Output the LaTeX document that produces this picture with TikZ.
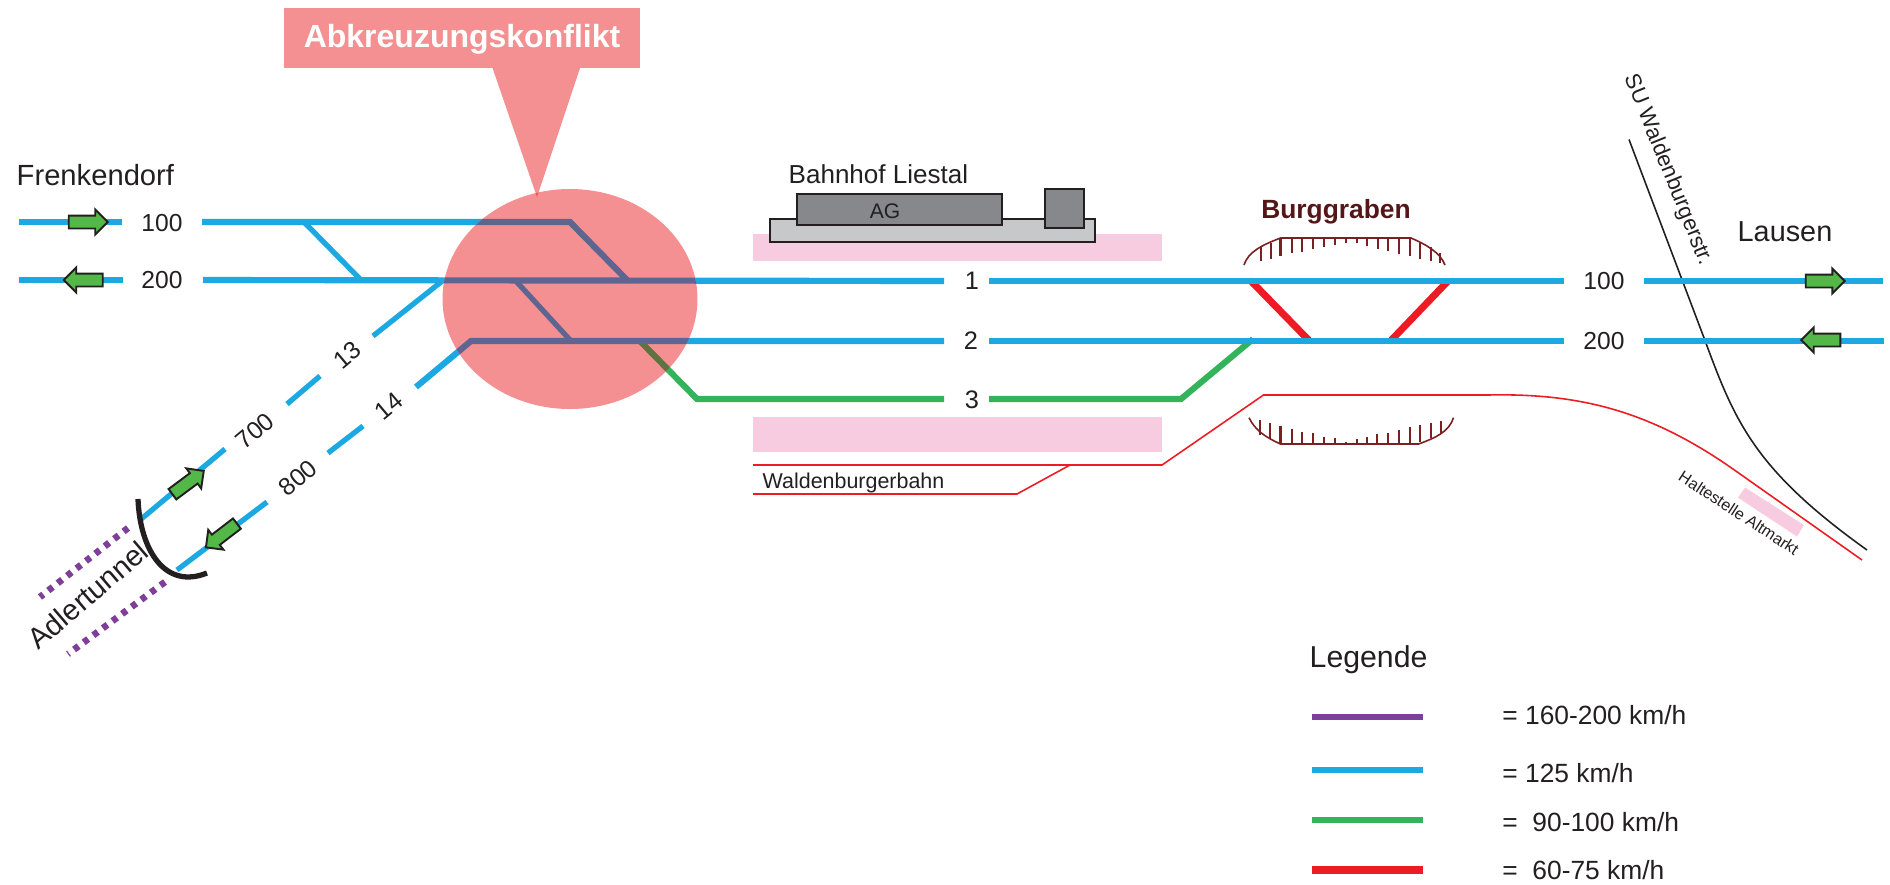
\documentclass[tikz,border=0pt]{standalone}
\usepackage{fontspec}
\setmainfont{Liberation Sans}
\usetikzlibrary{shapes.arrows}
\definecolor{trackblue}{HTML}{1CA9E1}
\definecolor{trackgreen}{HTML}{33B35A}
\definecolor{trackred}{HTML}{ED1C24}
\definecolor{trackviolet}{HTML}{7F3F98}
\definecolor{conflict}{HTML}{F59092}
\definecolor{conflicttip}{HTML}{F0585F}
\definecolor{conflictblue}{HTML}{5E6590}
\definecolor{conflictgreen}{HTML}{5F7340}
\definecolor{platform}{HTML}{F7CBE0}
\definecolor{wall}{HTML}{7A1F22}
\definecolor{ink}{HTML}{231F20}
\definecolor{arrowgreen}{HTML}{54B848}
\definecolor{roofgrey}{HTML}{87888C}
\definecolor{basegrey}{HTML}{C6C8CA}
\tikzset{
  txt/.style={inner sep=0pt,text=ink,font=\fontsize{#1pt}{#1pt}\selectfont},
  txt/.default=7.2,
}
\begin{document}
\begin{tikzpicture}[
    x=0.01cm,y=-0.01cm,
    track/.style={line width=1.75pt},
    branch/.style={line width=1.5pt},
    thinred/.style={trackred,line width=0.45pt},
    tunnel/.style={trackviolet,line width=1.9pt,dash pattern=on 1.6pt off 1.8pt},
    wallline/.style={wall,line width=0.45pt},
    hatch/.style={wall,line width=0.7pt},
    dirarrow/.style={single arrow,draw=ink,fill=arrowgreen,line width=0.55pt,
      inner xsep=0pt,inner ysep=0.055cm,minimum height=0.39cm,
      single arrow head extend=0.06cm,single arrow head indent=0cm},
    building/.style={draw=ink,line width=0.4pt},
    ]
    \useasboundingbox (0,0) rectangle (1890,884);
    % platforms
    \fill[platform] (753,234) rectangle (1162,261);
    \fill[platform] (753,417) rectangle (1162,452);
    \fill[platform] (1745,487.5) -- (1804,525) -- (1797,536.5) -- (1738,497.6) -- cycle;
    % station
    \draw[building,fill=basegrey] (770,219) rectangle (1095,242);
    \draw[building,fill=roofgrey] (797,194) rectangle (1002,225);
    \draw[building,fill=roofgrey] (1045,189) rectangle (1084,228);
    % thin lines
    \draw[thinred] (753,465) -- (1162,465) -- (1263.5,395) -- (1488,395)
      .. controls (1580,393) and (1650,411) .. (1733,469) -- (1862,560);
    \draw[thinred] (753,494) -- (1017,494) -- (1070,465);
    \draw[ink,line width=0.45pt] (1629,139.5) -- (1705,340.5)
      .. controls (1735,422) and (1755,470) .. (1867,550);
    % cuttings
    \draw[wallline] (1244,265) .. controls (1248,252) and (1262,245) .. (1280.5,238) -- (1411,238)
      .. controls (1425,244) and (1440,252) .. (1445,265);
    \draw[wallline] (1249,417.7) .. controls (1255,430) and (1265,437) .. (1280.5,444) -- (1418.6,444)
      .. controls (1435,438) and (1449,432) .. (1453.5,417.7);
    \foreach \hx/\ha/\hb in {1261/247/261,1271/243/259,1280.5/238/256,1292/238/253,1302/238/252,
      1313/238/249,1324/238/247,1335/238/245,1346/238/243,1357/238/243,1367/238/246,1378/238/249,
      1388/238/251,1399/238/254,1410/238/256,1420/243/259,1431/247/261,1440/253/263}
      \draw[hatch] (\hx,\ha) -- (\hx,\hb);
    \foreach \hx/\ha/\hb in {1260/435/420,1270/439/423,1280.5/444/426,1292/444/429,1302/444/432,
      1313/444/433,1324/444/437,1335/444/438,1346/444/442,1357/444/439,1367/444/437,1377/444/434,
      1388/444/433,1399/444/430,1410/444/427,1420/442/425,1431/438/423,1441/433/421}
      \draw[hatch] (\hx,\ha) -- (\hx,\hb);
    % red crossovers
    \draw[trackred,line width=2pt] (1251,281) -- (1309.5,341);
    \draw[trackred,line width=2pt] (1448,281) -- (1390.5,341);
    % green track
    \draw[trackgreen,track] (640,341) -- (697,399) -- (944,399);
    \draw[trackgreen,track] (989,399) -- (1181,399) -- (1253,339);
    % blue tracks
    \draw[trackblue,track] (19,222) -- (122,222);
    \draw[trackblue,track] (202,222) -- (570,222) -- (628,281);
    \draw[trackblue,branch] (304,222) -- (361,280);
    \draw[trackblue,track] (19,280) -- (123,280);
    \draw[trackblue,track] (203,280) -- (944,281);
    \draw[trackblue,track] (989,281) -- (1564,281);
    \draw[trackblue,track] (1644,281) -- (1883,281);
    \draw[trackblue,branch] (515,280) -- (571,341);
    \draw[trackblue,track] (416,387) -- (471,341) -- (944,341);
    \draw[trackblue,track] (989,341) -- (1564,341);
    \draw[trackblue,track] (1644,341) -- (1884,341);
    \draw[trackblue,branch] (443.5,280) -- (373,336);
    \draw[trackblue,branch] (320,376) -- (287,404);
    \draw[trackblue,branch] (225,449) -- (140,520);
    \draw[trackblue,branch] (363,426) -- (328,453);
    \draw[trackblue,branch] (267,502) -- (177,570);
    % tunnel
    \draw[tunnel] (128,528) -- (40,597);
    \draw[tunnel] (165,582) -- (68,654);
    \draw[ink,line width=1.5pt] (138,499) .. controls (140,550) and (165,590) .. (207,573);
    % conflict zone
    \fill[conflict] (284,8) rectangle (640,68);
    \fill[conflict] (492.5,68) -- (580,68) -- (537,197) -- cycle;
    \fill[conflict] (570,299) ellipse [x radius=127.5,y radius=110];
    \begin{scope}
      \clip (570,299) ellipse [x radius=127.5,y radius=110];
      \fill[conflicttip] (492.5,68) -- (580,68) -- (537,197) -- cycle;
      \draw[conflictgreen,track] (640,341) -- (697,399);
      \draw[conflictblue,track] (202,222) -- (570,222) -- (628,281);
      \draw[conflictblue,track] (203,280) -- (944,281);
      \draw[conflictblue,branch] (515,280) -- (571,341);
      \draw[conflictblue,track] (416,387) -- (471,341) -- (944,341);
    \end{scope}
    % direction arrows
    \node[dirarrow] (arrowA) at (85,222) {};
    \node[dirarrow,rotate=180] (arrowB) at (86.5,280) {};
    \node[dirarrow,rotate=36.6] (arrowC) at (185.5,484.5) {};
    \node[dirarrow,rotate=217.5] (arrowD) at (224,533.5) {};
    \node[dirarrow] (arrowE) at (1822,281) {};
    \node[dirarrow,rotate=180] (arrowF) at (1824,340) {};
    % labels
    \node[txt=9.1,anchor=base,text=white,font=\fontsize{9.1pt}{9.1pt}\selectfont\bfseries] (titel) at (462,47) {Abkreuzungskonflikt};
    \node[txt=8.3,anchor=base west] (frenkendorf) at (16,185) {Frenkendorf};
    \node[txt=8.2,anchor=base] (lausen) at (1785,241) {Lausen};
    \node[txt=7.4,anchor=base west] (bahnhof) at (788,183) {Bahnhof Liestal};
    \node[txt=6] (ag) at (885,211) {AG};
    \node[txt=7.5,anchor=base,text=wall!70!black,font=\fontsize{7.5pt}{7.5pt}\selectfont\bfseries] (burggraben) at (1336,218) {Burggraben};
    \node[txt=6.1,anchor=base west] (waldenburgerbahn) at (762,488) {Waldenburgerbahn};
    \node[txt=6.25,rotate=-68] (strasse) at (1668,170) {SU Waldenburgerstr.};
    \node[txt=4.6,rotate=-33] (haltestelle) at (1739,513) {Haltestelle Altmarkt};
    \node[txt=8.3,rotate=40.5] (adlertunnel) at (88,595) {Adlertunnel};
    \node[txt=7] (g100a) at (162,223) {100};
    \node[txt=7] (g200a) at (162,280) {200};
    \node[txt=7] (g100b) at (1604,281) {100};
    \node[txt=7] (g200b) at (1604,341) {200};
    \node[txt] (gleisA) at (972,281) {1};
    \node[txt] (gleisB) at (971,341) {2};
    \node[txt] (gleisC) at (972,400) {3};
    \node[txt=7,rotate=40] (g13) at (347.5,355) {13};
    \node[txt=7,rotate=40] (g14) at (389,406) {14};
    \node[txt=7,rotate=40] (g700) at (255,431) {700};
    \node[txt=7,rotate=40] (g800) at (298,478) {800};
    % legend
    \node[txt=8.6,anchor=base west] (legende) at (1309,667) {Legende};
    \draw[trackviolet,track] (1312,717) -- (1423,717);
    \draw[trackblue,track] (1312,769.7) -- (1423,769.7);
    \draw[trackgreen,track] (1312,820) -- (1423,820);
    \draw[trackred,line width=2.3pt] (1312,870) -- (1423,870);
    \node[txt=7.5,anchor=base west] (legA) at (1501.7,724) {= 160-200 km/h};
    \node[txt=7.5,anchor=base west] (legB) at (1501.7,782) {= 125 km/h};
    \node[txt=7.5,anchor=base west] (legC) at (1501.7,831) {= \ 90-100 km/h};
    \node[txt=7.5,anchor=base west] (legD) at (1501.7,879) {= \ 60-75 km/h};
  \end{tikzpicture}
\end{document}
